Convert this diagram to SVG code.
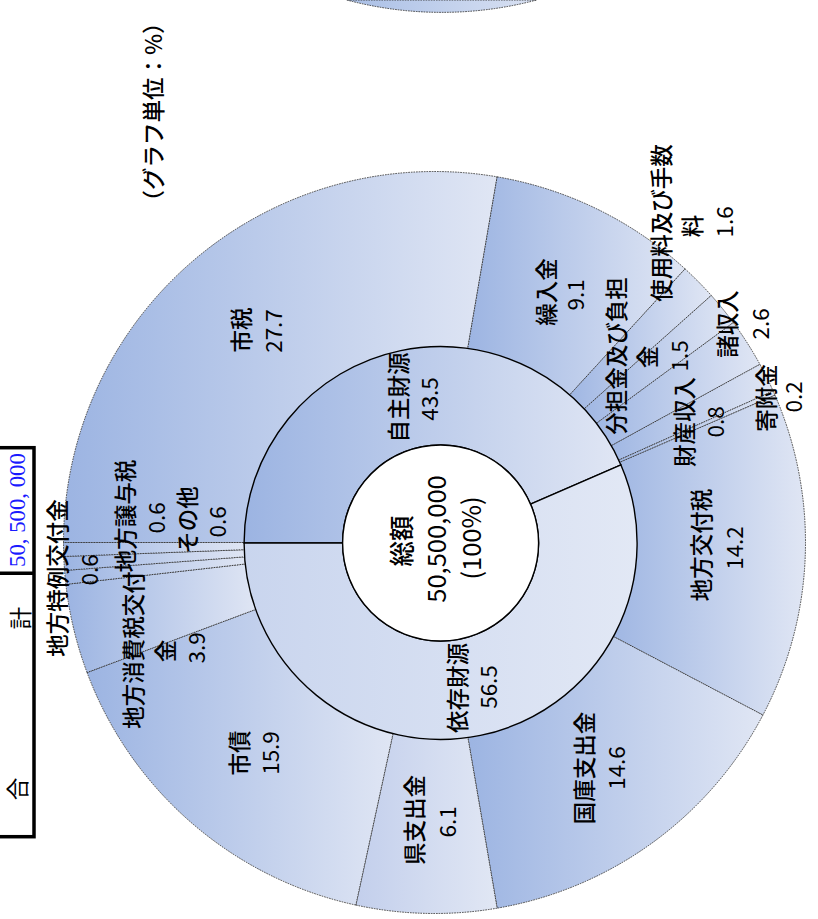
<svg xmlns="http://www.w3.org/2000/svg" width="818" height="919" viewBox="0 0 818 919">
<defs>
<linearGradient id="gA" x1="0" y1="0" x2="1" y2="0"><stop offset="0" stop-color="#9cb4e2"/><stop offset="1" stop-color="#e0e6f4"/></linearGradient>
<linearGradient id="gKen" x1="0" y1="0" x2="1" y2="0"><stop offset="0" stop-color="#c3cfec"/><stop offset="1" stop-color="#e1e7f4"/></linearGradient>
<linearGradient id="gIzon" x1="0" y1="0" x2="1" y2="0"><stop offset="0" stop-color="#c9d5ee"/><stop offset="1" stop-color="#e2e8f5"/></linearGradient>
<linearGradient id="gTop" x1="0" y1="0" x2="1" y2="0"><stop offset="0" stop-color="#a9bfe6"/><stop offset="1" stop-color="#d9e1f2"/></linearGradient>
</defs>
<style>
.o{fill:url(#gA);stroke:#333;stroke-width:0.9;stroke-dasharray:1.6,1}
.m{stroke:#000;stroke-width:1.4}
.t{font-family:"Noto Sans CJK JP","Noto Sans",sans-serif;font-size:22.5px;fill:#000;text-anchor:middle;dominant-baseline:central}
.j{font-weight:500}
.c{font-size:25.5px}
</style>
<rect width="818" height="919" fill="#fff"/>

<g id="top-sliver">
<path d="M346.7,0 A371,371 0 0 0 536.7,0 Z" fill="url(#gTop)" stroke="#333" stroke-width="0.9" stroke-dasharray="1.6,1"/>
</g>

<g id="unit-note">
<text class="t j" font-size="20.5" transform="translate(152,112) rotate(-90)">（グラフ単位：%）</text>
</g>

<g id="total-table">
<rect x="-5" y="447.7" width="39" height="389" fill="none" stroke="#000" stroke-width="3.5"/>
<line x1="-5" y1="573.3" x2="34" y2="573.3" stroke="#000" stroke-width="3.5"/>
<text transform="translate(17,510) rotate(-90)" font-family="'Liberation Serif',serif" font-size="23" fill="#1a1aff" text-anchor="middle" dominant-baseline="central" textLength="114">50, 500, 000</text>
<text class="t" font-size="22" fill="#222" transform="translate(19,618) rotate(-90)">計</text>
<text class="t" font-size="22" fill="#222" transform="translate(16,789) rotate(-90)">合</text>
</g>

<g id="outer-ring">
<path id="shizei" class="o" d="M63.5,542.5 A371,371 0 0 1 497.14,176.83 L466.24,357.2 A188,188 0 0 0 246.5,542.5 Z"/>
<path id="kurikomi" class="o" d="M497.14,176.83 A371,371 0 0 1 685.06,268.9 L561.47,403.86 A188,188 0 0 0 466.24,357.2 Z"/>
<path id="shiyoryo" class="o" d="M685.06,268.9 A371,371 0 0 1 711.28,295.46 L574.76,417.31 A188,188 0 0 0 561.47,403.86 Z"/>
<path id="buntankin" class="o" d="M711.28,295.46 A371,371 0 0 1 733.3,322.6 L585.92,431.07 A188,188 0 0 0 574.76,417.31 Z"/>
<path id="shoshunyu" class="o" d="M733.3,322.6 A371,371 0 0 1 759.92,364.34 L599.4,452.22 A188,188 0 0 0 585.92,431.07 Z"/>
<path id="zaisan" class="o" d="M759.92,364.34 A371,371 0 0 1 773.16,391.01 L606.11,465.73 A188,188 0 0 0 599.4,452.22 Z"/>
<path id="kifukin" class="o" d="M773.16,391.01 A371,371 0 0 1 774.99,395.16 L607.04,467.84 A188,188 0 0 0 606.11,465.73 Z"/>
<path id="kofuzei" class="o" d="M774.99,395.16 A371,371 0 0 1 762.92,715.05 L600.93,629.94 A188,188 0 0 0 607.04,467.84 Z"/>
<path id="kokko" class="o" d="M762.92,715.05 A371,371 0 0 1 497.14,908.17 L466.24,727.8 A188,188 0 0 0 600.93,629.94 Z"/>
<path id="ken" class="o" style="fill:url(#gKen)" d="M497.14,908.17 A371,371 0 0 1 355.84,905.07 L394.64,726.23 A188,188 0 0 0 466.24,727.8 Z"/>
<path id="shisai" class="o" d="M355.84,905.07 A371,371 0 0 1 87.05,672.53 L258.43,608.39 A188,188 0 0 0 394.64,726.23 Z"/>
<path id="shohizei" class="o" d="M87.05,672.53 A371,371 0 0 1 65.87,584.37 L247.7,563.72 A188,188 0 0 0 258.43,608.39 Z"/>
<path id="tokurei" class="o" d="M65.87,584.37 A371,371 0 0 1 64.56,570.45 L247.03,556.66 A188,188 0 0 0 247.7,563.72 Z"/>
<path id="joyozei" class="o" d="M64.56,570.45 A371,371 0 0 1 63.76,556.48 L246.63,549.59 A188,188 0 0 0 247.03,556.66 Z"/>
<path id="sonota" class="o" d="M63.76,556.48 A371,371 0 0 1 63.5,542.5 L246.5,542.5 A188,188 0 0 0 246.63,549.59 Z"/>
</g>

<g id="middle-ring">
<path id="jishu" class="m" fill="url(#gA)" d="M244.1,543 A196.5,196.5 0 0 1 620.94,464.96 L530.54,504.08 A98,98 0 0 0 342.6,543 Z"/>
<path id="izon" class="m" fill="url(#gIzon)" d="M620.94,464.96 A196.5,196.5 0 1 1 244.1,543 L342.6,543 A98,98 0 1 0 530.54,504.08 Z"/>
</g>

<g id="center">
<circle cx="440.6" cy="543" r="98" fill="#fff" stroke="#000" stroke-width="1.4"/>
<text class="t c j" font-size="26" transform="translate(399,541) rotate(-90)">総額</text>
<text class="t c" transform="translate(434,539) rotate(-90)">50,500,000</text>
<text class="t c" transform="translate(469,538) rotate(-90)">(100%)</text>
</g>

<g id="labels">
<g id="shizei-label"><text class="t j" transform="translate(240,330) rotate(-90)">市税</text><text class="t" transform="translate(272,331) rotate(-90)">27.7</text></g>
<g id="kurikomi-label"><text class="t j" transform="translate(545,292) rotate(-90)">繰入金</text><text class="t" transform="translate(574,295) rotate(-90)">9.1</text></g>
<g id="shiyoryo-label"><text class="t j" transform="translate(660,223) rotate(-90)">使用料及び手数</text><text class="t j" transform="translate(691,226) rotate(-90)">料</text><text class="t" transform="translate(723,222) rotate(-90)">1.6</text></g>
<g id="buntankin-label"><text class="t j" transform="translate(615,356) rotate(-90)">分担金及び負担</text><text class="t j" transform="translate(646,357) rotate(-90)">金</text><text class="t" transform="translate(678,356) rotate(-90)">1.5</text></g>
<g id="shoshunyu-label"><text class="t j" transform="translate(726,324) rotate(-90)">諸収入</text><text class="t" transform="translate(759,324) rotate(-90)">2.6</text></g>
<g id="zaisan-label"><text class="t j" transform="translate(683,422) rotate(-90)">財産収入</text><text class="t" transform="translate(713.5,422) rotate(-90)">0.8</text></g>
<g id="kifukin-label"><text class="t j" transform="translate(765,398) rotate(-90)">寄附金</text><text class="t" transform="translate(792,397) rotate(-90)">0.2</text></g>
<g id="kofuzei-label"><text class="t j" transform="translate(700,545) rotate(-90)">地方交付税</text><text class="t" transform="translate(732.5,548) rotate(-90)">14.2</text></g>
<g id="kokko-label"><text class="t j" transform="translate(582.5,768) rotate(-90)">国庫支出金</text><text class="t" transform="translate(615,768) rotate(-90)">14.6</text></g>
<g id="ken-label"><text class="t j" transform="translate(413,820) rotate(-90)">県支出金</text><text class="t" transform="translate(445.5,822) rotate(-90)">6.1</text></g>
<g id="shisai-label"><text class="t j" transform="translate(237.5,753) rotate(-90)">市債</text><text class="t" transform="translate(269,753) rotate(-90)">15.9</text></g>
<g id="shohizei-label"><text class="t j" transform="translate(132,650) rotate(-90)">地方消費税交付</text><text class="t j" transform="translate(164,651) rotate(-90)">金</text><text class="t" transform="translate(195,648) rotate(-90)">3.9</text></g>
<g id="joyozei-label"><text class="t j" transform="translate(124,516) rotate(-90)">地方譲与税</text><text class="t" transform="translate(155,518) rotate(-90)">0.6</text></g>
<g id="sonota-label"><text class="t j" transform="translate(186,520) rotate(-90)">その他</text><text class="t" transform="translate(216,522) rotate(-90)">0.6</text></g>
<g id="tokurei-label"><text class="t j" transform="translate(56,578) rotate(-90)">地方特例交付金</text><text class="t" transform="translate(88,570) rotate(-90)">0.6</text></g>
<g id="jishu-label"><text class="t j" transform="translate(397,397.5) rotate(-90)">自主財源</text><text class="t" transform="translate(427.5,399) rotate(-90)">43.5</text></g>
<g id="izon-label"><text class="t j" transform="translate(456,688) rotate(-90)">依存財源</text><text class="t" transform="translate(486.5,687) rotate(-90)">56.5</text></g>
</g>
</svg>
